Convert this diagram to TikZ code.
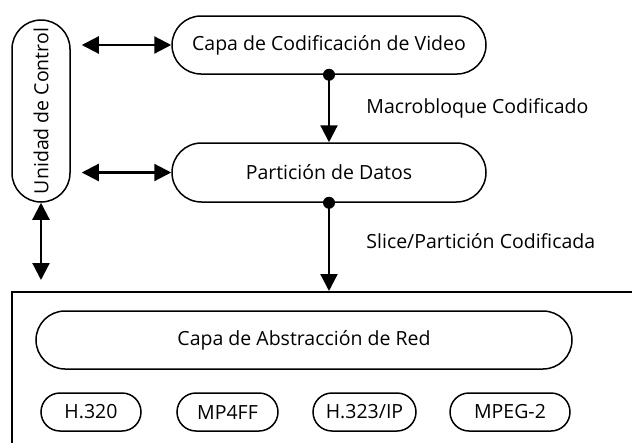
\documentclass[tikz,border=0pt]{standalone}
\usepackage{fontspec}
\setmainfont{Open Sans}
\usetikzlibrary{positioning,arrows.meta,shapes.misc}

\tikzset{
  capa/.style={draw, line width=1.5pt, rounded rectangle, inner sep=0pt,
    font=\fontsize{19.5}{22}\selectfont},
  flecha/.style={line width=2.2pt, -{Triangle[length=17pt,width=17pt]}},
  dflecha/.style={line width=2.2pt,
    {Triangle[length=17pt,width=17pt]}-{Triangle[length=17pt,width=17pt]}},
  punto/.style={circle, fill, inner sep=0pt, minimum size=12pt},
  etiqueta/.style={anchor=west, font=\fontsize{19.5}{22}\selectfont},
}

\begin{document}
\begin{tikzpicture}[x=1pt,y=-1pt]
	\useasboundingbox (0,0) rectangle (632,442);
	% capas superiores
	\node[capa, minimum width=314, minimum height=58] (cod) at (329,45) {Capa de Codificación de Video};
	\node[capa, minimum width=314, minimum height=59] (dat) at (329,172.5) {Partición de Datos};
	\node[capa, rotate=90, minimum width=182, minimum height=58] (ctrl) at (41,111) {Unidad de Control};
	% capa de red
	\node[draw, line width=1.5pt, anchor=north west, inner sep=0pt,
	  minimum width=660, minimum height=200] (nal) at (11,291) {};
	\node[capa, minimum width=536, minimum height=58] (abs) at (304,340) {Capa de Abstracción de Red};
	\node[capa, minimum width=100, minimum height=38] (h320) at (91,412) {H.320};
	\node[capa, minimum width=101, minimum height=38] (mp4) at (227.5,412) {MP4FF};
	\node[capa, minimum width=103, minimum height=38] (h323) at (364.5,412) {H.323/IP};
	\node[capa, minimum width=120, minimum height=38] (mpeg) at (510,412) {MPEG-2};
	% flechas
	\coordinate (bajo) at (ctrl.west |- nal.north);
	\draw[dflecha, shorten <=11pt] (ctrl.south |- cod.west) -- (cod.west);
	\draw[dflecha, shorten <=11pt] (ctrl.south |- dat.west) -- (dat.west);
	\draw[dflecha, shorten >=11pt] (ctrl.west) -- (bajo);
	\node[punto] (p1) at (cod.south) {};
	\node[punto] (p2) at (dat.south) {};
	\draw[flecha] (p1.center) -- (dat.north)
	  node[etiqueta, midway, xshift=33pt] {Macrobloque Codificado};
	\draw[flecha] (p2.center) -- (dat.south |- nal.north)
	  node[etiqueta, pos=0.43, xshift=33pt] {Slice/Partición Codificada};
\end{tikzpicture}
\end{document}
